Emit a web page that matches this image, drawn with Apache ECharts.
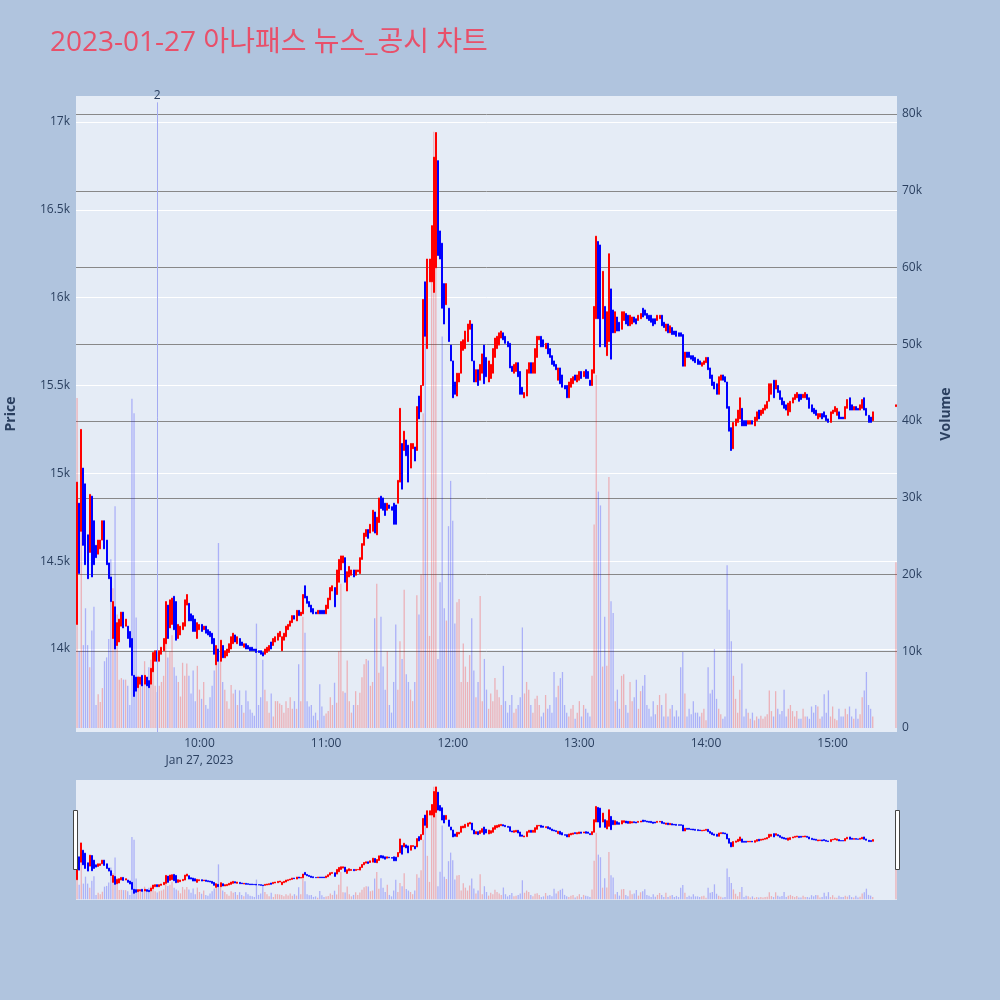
<!DOCTYPE html>
<html><head><meta charset="utf-8">
<script src="https://cdn.jsdelivr.net/npm/echarts@6/dist/echarts.min.js"></script>
<style>html,body{margin:0;padding:0;background:#B0C4DE;}#c{width:1000px;height:1000px;}</style>
</head><body><div id="c"></div>
<script>
const TITLE = '2023-01-27 아나패스 뉴스_공시 차트';
const DAY_LABEL = 'Jan 27, 2023';
const FIRST_TIME = '09:02';
const LAST_TIME = '15:30';

// 1-minute candles 09:02 .. 15:19 (continuous session)
const OPEN = [
14140,14830,14670,15030,14940,14650,14550,14870,14730,14590,14540,14570,14620,14730,14620,14490,14410,14060,14240,14020,14040,14130,14210,14130,14130,14100,14060,13850,13840,13780,13800,13850,13800,13840,13820,13800,13870,13930,13990,13930,13970,13990,14030,14250,14120,14140,14300,14270,
14060,14080,14110,14130,14250,14260,14200,14190,14170,14060,14110,14140,14110,14130,14110,14100,14090,14060,13910,14000,13930,14020,13950,13960,13980,14000,14030,14080,14030,14060,14040,14010,14030,14020,14010,14010,14000,14000,13990,13990,13980,13970,13980,13990,14040,14020,14040,14050,14070,
13990,14050,14070,14110,14130,14150,14190,14160,14220,14190,14200,14360,14300,14270,14250,14230,14210,14200,14220,14220,14220,14200,14230,14280,14330,14350,14310,14380,14450,14490,14520,14330,14410,14420,14450,14420,14440,14430,14510,14590,14640,14680,14660,14670,14780,14650,14720,14870,
14860,14830,14790,14820,14810,14830,14820,14830,14950,15170,15130,15190,15160,15030,15140,15150,15130,15440,15350,15500,16090,15710,16090,16090,16030,16170,16780,16380,16310,16080,15960,15940,15730,15640,15520,15440,15520,15570,15700,15710,15750,15820,15850,15640,15520,15590,15530,15570,15730,15660,
15520,15540,15570,15660,15710,15730,15770,15800,15780,15750,15740,15610,15570,15580,15630,15580,15490,15430,15440,15570,15630,15570,15570,15660,15760,15780,15760,15710,15740,15710,15670,15640,15620,15530,15600,15560,15500,15500,15430,15490,15510,15560,15520,15530,15580,15550,15590,15580,15530,
15500,15570,15880,16320,16300,15880,15950,15670,15750,16050,15930,15800,15890,15860,15820,15870,15910,15900,15840,15850,15890,15880,15870,15880,15940,15930,15910,15900,15900,15880,15880,15870,15880,15900,15860,15810,15850,15800,15830,15810,15810,15800,15800,15790,15610,15690,15690,15670,15670,15660,
15650,15640,15610,15620,15630,15660,15600,15560,15520,15510,15450,15530,15560,15550,15520,15380,15260,15140,15270,15290,15310,15370,15300,15300,15280,15280,15300,15270,15300,15360,15330,15340,15360,15370,15410,15450,15530,15480,15500,15470,15430,15410,15390,15330,15350,15400,15420,15430,15450,
15450,15430,15430,15450,15430,15390,15370,15360,15310,15320,15340,15350,15330,15310,15290,15340,15350,15330,15350,15320,15320,15310,15370,15430,15390,15360,15380,15370,15360,15370,15430,15370,15330,15320,15300
];
const CLOSE = [
14950,14430,15250,14590,14480,14400,14880,14410,14480,14520,14620,14620,14730,14570,14480,14400,14270,14270,14000,14150,14170,14210,14120,14170,14060,14010,13850,13730,13760,13840,13840,13790,13850,13790,13780,13890,13980,13990,13930,13990,14010,14060,14270,14060,14280,14290,14110,14050,
14140,14130,14150,14280,14310,14160,14160,14100,14100,14150,14140,14100,14130,14090,14080,14070,14030,13970,14020,13930,14050,13950,13990,14000,14030,14070,14090,14040,14070,14020,14020,14030,14000,14000,13990,13990,13990,13980,13980,13970,13960,14000,14010,14020,14000,14060,14070,14090,14100,
14070,14090,14130,14140,14160,14190,14170,14220,14190,14210,14310,14290,14260,14240,14210,14200,14200,14220,14200,14200,14200,14250,14290,14350,14360,14240,14450,14510,14530,14530,14380,14440,14470,14450,14410,14450,14450,14520,14600,14660,14680,14630,14710,14790,14660,14750,14860,14800,
14790,14760,14830,14800,14790,14710,14710,14960,15370,14910,15240,15100,14950,15170,15170,15070,15380,15310,15500,15990,15780,16220,16220,16410,16800,16940,16240,16220,15940,15850,16080,15750,15640,15430,15450,15570,15570,15750,15760,15810,15850,15870,15640,15520,15590,15500,15620,15680,15510,15550,
15640,15620,15710,15770,15780,15800,15810,15760,15740,15720,15600,15580,15620,15630,15550,15450,15450,15460,15590,15630,15570,15630,15710,15780,15780,15720,15720,15740,15680,15660,15620,15610,15590,15600,15510,15490,15480,15430,15520,15540,15550,15530,15560,15580,15540,15580,15540,15540,15500,
15590,15950,16350,15880,15720,16150,15720,15920,16250,15650,15800,15920,15810,15810,15920,15920,15850,15840,15900,15890,15860,15850,15900,15910,15890,15900,15880,15870,15860,15840,15850,15900,15900,15840,15830,15850,15800,15840,15790,15790,15780,15780,15780,15610,15690,15660,15660,15650,15640,15630,
15620,15620,15630,15640,15660,15590,15540,15500,15480,15450,15550,15560,15530,15520,15370,15240,15130,15290,15310,15360,15430,15270,15270,15270,15300,15300,15280,15320,15350,15310,15360,15370,15390,15410,15510,15510,15430,15530,15460,15420,15390,15370,15360,15400,15410,15430,15450,15460,15410,
15420,15450,15460,15420,15370,15350,15340,15330,15340,15340,15310,15320,15300,15290,15350,15360,15380,15370,15310,15310,15310,15380,15420,15360,15360,15380,15360,15360,15390,15420,15360,15330,15290,15290,15350
];
const VOLUME = [
43000,10000,38700,10800,15600,10800,7900,12700,15800,3000,4400,3400,5200,8700,9200,11600,22000,18200,28900,14800,6300,6500,6300,6300,5500,3000,42900,41000,14400,6800,6300,6300,8700,6500,7900,8900,7300,5500,4700,5500,6000,6800,16400,9200,10000,12100,7900,6800,
6000,4100,8500,6800,8400,6800,4500,7500,3500,8100,5000,3800,6000,3000,2500,4000,5500,7500,9200,24100,9000,6000,5000,3500,2500,5600,4500,5000,3000,4900,3000,2000,4900,3500,2400,2000,1600,13600,3000,4000,8900,5000,3500,2000,4500,1500,3500,3500,3200,
3000,2000,3500,2600,4000,2500,3500,2500,8300,3500,14500,12400,3500,2800,3000,1600,2000,1000,5700,2800,1600,1900,2200,4000,3000,5900,3300,10000,18800,4800,4600,8800,3500,2000,3000,4800,3000,4600,6600,8300,9000,8800,5500,6000,14300,18800,7200,14500,
8000,5000,10000,3000,2000,6000,13500,5000,11300,9000,18000,7000,6000,5000,3500,6000,17300,14800,20000,41000,51000,30000,12000,58700,77700,65000,9000,19000,51000,15600,14000,26300,32200,27000,13600,16400,16800,6000,11000,8000,6000,9500,14300,7500,4000,6000,17200,3500,9000,5000,
2500,4500,3500,6500,5000,4000,3000,8100,3500,2000,3000,4300,2000,2500,3000,4000,13100,4500,6000,5000,3000,2000,3800,4200,3000,1500,2000,4300,2500,3000,2000,7300,4000,5500,6500,7300,3000,2000,1500,2500,3000,1200,2000,3500,1500,3000,2500,2000,1500,
6800,26500,46000,30800,29000,8000,14500,8100,32700,16500,15000,3500,5000,2500,6800,7000,3000,2000,6000,3500,4000,6300,2500,4800,5500,6900,3000,2500,1500,3500,1800,3000,4300,3000,1500,4500,1500,2500,3000,1500,2300,1500,7900,9900,4500,1500,2500,1800,3500,2000,
2000,1500,2000,2500,1000,7900,4500,5000,10300,3800,2500,1800,1200,1500,21200,15400,11300,6800,3800,2000,5000,8400,1500,2500,2000,1200,2000,1000,1500,1200,1600,1200,1500,1800,4900,2200,1500,4800,2500,1800,2200,5000,1500,2500,3000,2200,1500,2200,1200,
1200,2500,1500,1500,1200,2800,2000,3000,2800,1200,1500,4400,2000,4900,1500,2800,1200,1000,2500,1500,1500,2500,1800,2800,1500,1200,2500,1200,1800,4000,4900,7300,3000,2500,1500
];
// closing auction candle
const AUCTION_TIME = '15:30';
const AUCTION_OHLCV = [15380, 15390, 21600];
// news / disclosure markers
const NEWS_TIMES = ['09:40'];
const NEWS_LABELS = ['2'];

const PRICE_TICK_MIN = 14000, PRICE_TICK_MAX = 17000, PRICE_STEP = 500;
const VOL_TICK_MAX = 80000, VOL_STEP = 10000;

function toMin(t){const p=t.split(':');return +p[0]*60+ +p[1];}
function pad(n){return (n<10?'0':'')+n;}
const times = [];
for (let m = toMin(FIRST_TIME); m <= toMin(LAST_TIME); m++) times.push(pad(Math.floor(m/60))+':'+pad(m%60));

const UP='#FF0000', DOWN='#0000FF', UPV='rgba(255,0,0,0.25)', DOWNV='rgba(0,0,255,0.25)';
const candleData = [], volData = [];
times.forEach((t,i)=>{
  let o,c,v;
  if (i < OPEN.length){o=OPEN[i];c=CLOSE[i];v=VOLUME[i];}
  else if (t===AUCTION_TIME){o=AUCTION_OHLCV[0];c=AUCTION_OHLCV[1];v=AUCTION_OHLCV[2];}
  if (o===undefined){candleData.push(['-','-','-','-']);volData.push('-');return;}
  candleData.push([o,c,Math.min(o,c),Math.max(o,c)]);
  volData.push({value:v,itemStyle:{color:c>=o?UPV:DOWNV}});
});

const FONT="'Open Sans', sans-serif";
const lab={color:'#2a3f5f',fontSize:12,fontFamily:FONT};
const hidden={axisLine:{show:false},axisTick:{show:false},splitLine:{show:false}};
const candleStyle={color:UP,color0:DOWN,borderColor:UP,borderColor0:DOWN,borderWidth:1};
const G={left:76,right:103,outerBoundsMode:'none',containLabel:false};
const NEWS_LINE={color:'#A3AAF2',width:1,type:'solid'};

const chart = echarts.init(document.getElementById('c'));
chart.setOption({
  backgroundColor:'#B0C4DE',
  animation:false,
  title:{text:TITLE,left:45,top:24,textStyle:{color:'#E8506A',fontSize:28,fontWeight:'normal',fontFamily:"'Open Sans','Noto Sans CJK KR',sans-serif"}},
  grid:[
    Object.assign({top:96,bottom:268,show:true,backgroundColor:'#E5ECF6',borderWidth:0},G),
    Object.assign({top:122,bottom:351},G),
    Object.assign({top:114,bottom:272},G),
    Object.assign({top:780,bottom:100,show:true,backgroundColor:'#E5ECF6',borderWidth:0},G)
  ],
  xAxis:[
    Object.assign({gridIndex:0,type:'category',data:times,boundaryGap:true,
      axisLabel:Object.assign({interval:(i,v)=>v.endsWith(':00'),formatter:v=>v==='10:00'?v+'\n'+DAY_LABEL:v,lineHeight:17,margin:3},lab)},hidden),
    {gridIndex:1,type:'category',data:times,show:false},
    {gridIndex:2,type:'category',data:times,show:false},
    {gridIndex:3,type:'category',data:times,show:false}
  ],
  yAxis:[
    Object.assign({gridIndex:0,type:'value',min:0,max:1,position:'left',name:'Price',nameLocation:'middle',nameGap:58,nameRotate:90,
      nameTextStyle:{color:'#2a3f5f',fontSize:14,fontWeight:'bold',fontFamily:FONT},axisLabel:{show:false}},hidden),
    Object.assign({gridIndex:0,type:'value',min:0,max:1,position:'right',name:'Volume',nameLocation:'middle',nameGap:42,nameRotate:90,
      nameTextStyle:{color:'#2a3f5f',fontSize:14,fontWeight:'bold',fontFamily:FONT},axisLabel:{show:false}},hidden),
    {gridIndex:1,type:'value',min:PRICE_TICK_MIN,max:PRICE_TICK_MAX,interval:PRICE_STEP,position:'left',
      axisLine:{show:false},axisTick:{show:false},
      axisLabel:Object.assign({formatter:v=>(v/1000)+'k',margin:6},lab),
      splitLine:{lineStyle:{color:'#ffffff',width:1}}},
    {gridIndex:2,type:'value',min:0,max:VOL_TICK_MAX,interval:VOL_STEP,position:'right',
      axisLine:{show:false},axisTick:{show:false},
      axisLabel:Object.assign({formatter:v=>v===0?'0':(v/1000)+'k',margin:5},lab),
      splitLine:{showMinLine:false,lineStyle:{color:'#888888',width:1}}},
    {gridIndex:3,type:'value',min:13528,max:17148,show:false},
    {gridIndex:3,type:'value',min:-521,max:82345,show:false}
  ],
  series:[
    {type:'bar',xAxisIndex:2,yAxisIndex:3,data:volData,barWidth:1.3,z:2},
    {type:'candlestick',xAxisIndex:1,yAxisIndex:2,data:candleData,barWidth:1.5,clip:false,itemStyle:candleStyle,z:3},
    {type:'scatter',xAxisIndex:0,yAxisIndex:0,data:NEWS_TIMES.map(t=>[t,0.5]),symbolSize:0,silent:true,z:4,
      markLine:{silent:true,symbol:['none','none'],animation:false,
        lineStyle:NEWS_LINE,
        label:{show:true,position:'end',distance:1,color:'#2a3f5f',fontSize:12,fontFamily:FONT},
        data:NEWS_TIMES.map((t,k)=>[{coord:[t,0],lineStyle:NEWS_LINE,label:{formatter:NEWS_LABELS[k]}},{coord:[t,0.99]}])}},
    {type:'bar',xAxisIndex:3,yAxisIndex:5,data:volData,barWidth:1.3,z:2,silent:true},
    {type:'candlestick',xAxisIndex:3,yAxisIndex:4,data:candleData,barWidth:1.5,itemStyle:candleStyle,z:3,silent:true}
  ],
  graphic:[
    {type:'rect',shape:{x:73.5,y:810.5,width:4,height:59},style:{fill:'#ffffff',stroke:'#444444',lineWidth:1},z:10},
    {type:'rect',shape:{x:895.5,y:810.5,width:4,height:59},style:{fill:'#ffffff',stroke:'#444444',lineWidth:1},z:10}
  ]
});
</script></body></html>
